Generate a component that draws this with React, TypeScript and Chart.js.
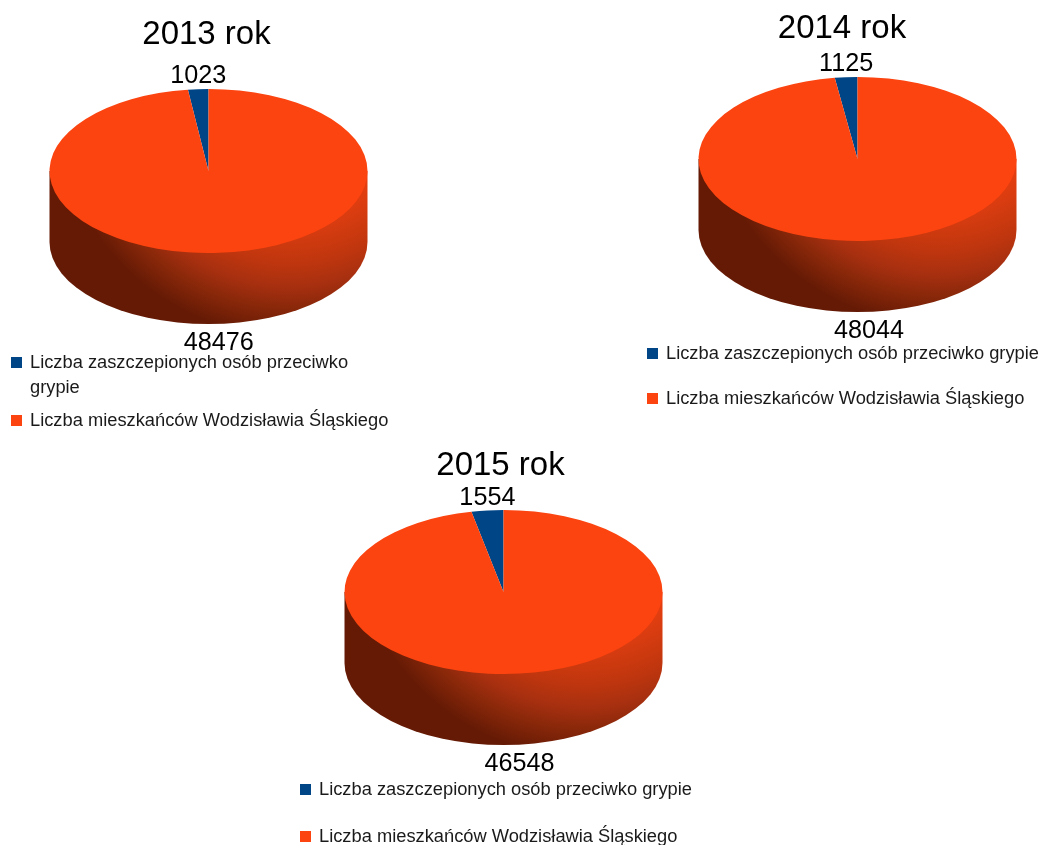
import React, { useEffect, useRef } from "react";
import { Chart, registerables } from "chart.js";

Chart.register(...registerables);

const seriesNames = ["Liczba zaszczepionych osób przeciwko grypie", "Liczba mieszkańców Wodzisławia Śląskiego"];
const years = ["2013 rok", "2014 rok", "2015 rok"];
const vaccinated = [1023, 1125, 1554];
const residents = [48476, 48044, 46548];
const sliceColors = ["#004586", "#fc4410"];

const FONT = "'Liberation Sans', Arial, sans-serif";
const RADIUS = 159;
const FLATTEN = 82 / 159;
const WALL = 71;

type Panel = {
  left: number; top: number; width: number; height: number;
  cx: number; cy: number; titleX: number; titleY: number; labelDy: number;
  legendX: number; legendLines: string[][]; legendYs: number[];
};

// Panel frames and text placement, in page pixels.
const panels: Panel[] = [
  {
    left: 0, top: 0, width: 420, height: 440, cx: 208.5, cy: 171, titleX: 206.5, titleY: 35, labelDy: 0, legendX: 11,
    legendLines: [["Liczba zaszczepionych osób przeciwko", "grypie"], [seriesNames[1]]],
    legendYs: [363, 421],
  },
  {
    left: 640, top: 0, width: 404, height: 420, cx: 857.5, cy: 159, titleX: 842, titleY: 29, labelDy: 0, legendX: 647,
    legendLines: [[seriesNames[0]], [seriesNames[1]]],
    legendYs: [354, 399],
  },
  {
    left: 290, top: 420, width: 420, height: 425, cx: 503.5, cy: 592, titleX: 500.5, titleY: 466, labelDy: 1, legendX: 300,
    legendLines: [[seriesNames[0]], [seriesNames[1]]],
    legendYs: [790, 837],
  },
];

// Squashes the pie into a disc and draws its side wall, value labels, title and legend.
const discPlugin = {
  id: "disc",
  beforeDatasetsDraw(chart: any) {
    const { ctx } = chart;
    const arcs = chart.getDatasetMeta(0).data;
    const { x, y, outerRadius: r } = arcs[0];
    ctx.save();
    const glow = ctx.createRadialGradient(x + 82, y - 70, 0, x + 82, y - 70, 240);
    glow.addColorStop(0, "#fc4410");
    glow.addColorStop(0.4, "#f04010");
    glow.addColorStop(0.54, "#d83c10");
    glow.addColorStop(0.67, "#c0360e");
    glow.addColorStop(0.77, "#a83010");
    glow.addColorStop(0.86, "#8a280a");
    glow.addColorStop(0.98, "#651a05");
    glow.addColorStop(1, "#651a05");
    ctx.fillStyle = glow;
    ctx.beginPath();
    ctx.ellipse(x, y + WALL, r, r * FLATTEN, 0, 0, Math.PI);
    ctx.lineTo(x - r, y);
    ctx.lineTo(x + r, y);
    ctx.closePath();
    ctx.fill();
    ctx.restore();

    ctx.save();
    ctx.translate(0, y);
    ctx.scale(1, FLATTEN);
    ctx.translate(0, -y);
  },
  afterDatasetsDraw(chart: any, _args: any, opts: any) {
    const { ctx } = chart;
    ctx.restore();

    const panel: Panel = opts.panel;
    const values: number[] = chart.data.datasets[0].data;
    const arcs = chart.getDatasetMeta(0).data;
    ctx.save();
    ctx.fillStyle = "#000";
    ctx.textAlign = "center";
    ctx.textBaseline = "middle";

    ctx.font = `33px ${FONT}`;
    ctx.fillText(opts.title, panel.titleX - panel.left, panel.titleY - panel.top);

    ctx.font = `25.2px ${FONT}`;
    arcs.forEach((arc: any, i: number) => {
      const mid = (arc.startAngle + arc.endAngle) / 2;
      const px = arc.x + arc.outerRadius * Math.cos(mid);
      const py = arc.y + arc.outerRadius * FLATTEN * Math.sin(mid);
      const offset = Math.sin(mid) < 0 ? -13 + panel.labelDy : WALL + 19;
      ctx.fillText(String(values[i]), px, py + offset);
    });

    ctx.textAlign = "left";
    ctx.font = `18.3px ${FONT}`;
    panel.legendLines.forEach((lines, i) => {
      const lx = panel.legendX - panel.left;
      const ly = panel.legendYs[i] - panel.top;
      ctx.fillStyle = sliceColors[i];
      ctx.fillRect(lx, ly - 6, 11, 11);
      ctx.fillStyle = "#1a1a1a";
      lines.forEach((line, k) => ctx.fillText(line, lx + 19, ly + k * 25));
    });
    ctx.restore();
  },
};

function PiePanel({ index }: { index: number }) {
  const ref = useRef<HTMLCanvasElement>(null);
  useEffect(() => {
    const p = panels[index];
    const data = [vaccinated[index], residents[index]];
    const sweep = (data[0] / (data[0] + data[1])) * 360;
    const chart = new Chart(ref.current!, {
      type: "pie",
      data: {
        labels: seriesNames,
        datasets: [{ data, backgroundColor: sliceColors, borderWidth: 0 }],
      },
      options: {
        animation: false,
        responsive: false,
        rotation: -sweep,
        layout: {
          padding: {
            left: p.cx - RADIUS - p.left,
            right: p.left + p.width - p.cx - RADIUS,
            top: p.cy - RADIUS - p.top,
            bottom: p.top + p.height - p.cy - RADIUS,
          },
        },
        plugins: {
          legend: { display: false },
          title: { display: false },
          tooltip: { enabled: false },
          disc: { panel: p, title: years[index] },
        } as any,
      },
      plugins: [discPlugin],
    });
    return () => chart.destroy();
  }, [index]);
  const p = panels[index];
  return (
    <canvas
      ref={ref}
      width={p.width}
      height={p.height}
      style={{ position: "absolute", left: p.left, top: p.top, width: p.width, height: p.height }}
    />
  );
}

export default function App() {
  return (
    <div style={{ position: "absolute", left: 0, top: 0, width: 1044, height: 845, overflow: "hidden", background: "#fff" }}>
      {panels.map((_, i) => (
        <PiePanel key={i} index={i} />
      ))}
    </div>
  );
}
